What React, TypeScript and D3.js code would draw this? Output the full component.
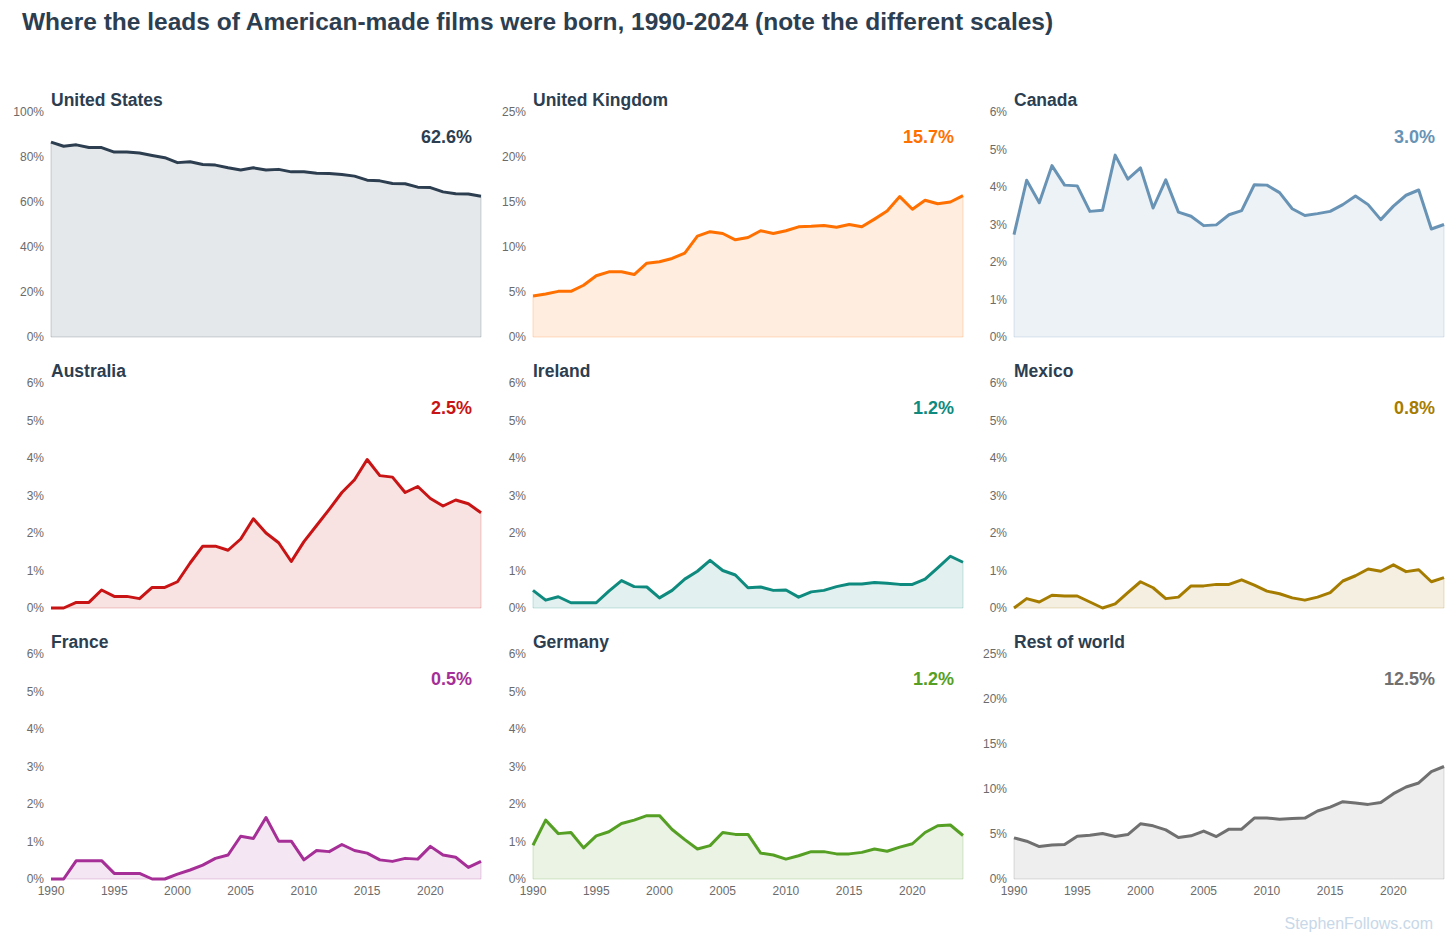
import * as d3 from "d3";

// Share of leads of American-made films, by birth country, 1990-2024.
const years = d3.range(1990, 2025);

const unitedStates = [86.6, 84.8, 85.4, 84.2, 84.2, 82.2, 82.2, 81.8, 80.7, 79.7, 77.5, 77.9, 76.7, 76.4, 75.2, 74.2, 75.2, 74.2, 74.5, 73.4, 73.4, 72.8, 72.7, 72.2, 71.5, 69.7, 69.4, 68.2, 68.1, 66.6, 66.4, 64.5, 63.7, 63.6, 62.6];
const unitedKingdom = [4.55, 4.78, 5.07, 5.07, 5.75, 6.8, 7.24, 7.24, 6.94, 8.2, 8.36, 8.73, 9.33, 11.2, 11.7, 11.5, 10.8, 11.05, 11.8, 11.5, 11.8, 12.24, 12.3, 12.4, 12.2, 12.5, 12.24, 13.1, 14.0, 15.6, 14.2, 15.2, 14.8, 15.0, 15.7];
const canada = [2.73, 4.18, 3.58, 4.57, 4.05, 4.03, 3.35, 3.38, 4.85, 4.21, 4.51, 3.44, 4.19, 3.33, 3.22, 2.97, 2.99, 3.26, 3.37, 4.06, 4.05, 3.85, 3.42, 3.24, 3.29, 3.35, 3.53, 3.76, 3.53, 3.13, 3.49, 3.78, 3.92, 2.88, 3.0];
const australia = [0, 0, 0.15, 0.15, 0.48, 0.31, 0.31, 0.25, 0.55, 0.55, 0.7, 1.2, 1.65, 1.65, 1.54, 1.84, 2.38, 2.0, 1.74, 1.24, 1.77, 2.2, 2.63, 3.08, 3.42, 3.96, 3.53, 3.49, 3.08, 3.24, 2.92, 2.72, 2.88, 2.78, 2.54];
const ireland = [0.47, 0.21, 0.3, 0.14, 0.14, 0.14, 0.45, 0.73, 0.57, 0.56, 0.27, 0.47, 0.77, 0.98, 1.27, 1.0, 0.88, 0.54, 0.56, 0.47, 0.48, 0.29, 0.43, 0.47, 0.57, 0.64, 0.64, 0.68, 0.66, 0.63, 0.63, 0.77, 1.07, 1.38, 1.22];
const mexico = [0, 0.25, 0.16, 0.34, 0.32, 0.32, 0.16, 0, 0.11, 0.41, 0.7, 0.54, 0.25, 0.29, 0.59, 0.59, 0.63, 0.63, 0.75, 0.61, 0.45, 0.38, 0.27, 0.21, 0.29, 0.41, 0.72, 0.86, 1.04, 0.98, 1.15, 0.97, 1.02, 0.7, 0.81];
const france = [0, 0, 0.49, 0.49, 0.49, 0.15, 0.15, 0.15, 0, 0, 0.13, 0.24, 0.37, 0.55, 0.64, 1.14, 1.08, 1.64, 1.01, 1.01, 0.51, 0.76, 0.73, 0.92, 0.76, 0.69, 0.51, 0.47, 0.55, 0.53, 0.87, 0.64, 0.58, 0.31, 0.47];
const germany = [0.9, 1.57, 1.21, 1.24, 0.83, 1.15, 1.26, 1.48, 1.57, 1.69, 1.69, 1.32, 1.05, 0.8, 0.89, 1.24, 1.19, 1.19, 0.69, 0.64, 0.53, 0.62, 0.73, 0.73, 0.67, 0.67, 0.71, 0.8, 0.74, 0.85, 0.94, 1.24, 1.42, 1.44, 1.16];
const restOfWorld = [4.57, 4.2, 3.6, 3.79, 3.83, 4.76, 4.87, 5.06, 4.72, 4.94, 6.13, 5.91, 5.46, 4.61, 4.8, 5.32, 4.72, 5.54, 5.54, 6.77, 6.77, 6.65, 6.73, 6.77, 7.55, 7.99, 8.59, 8.44, 8.29, 8.51, 9.48, 10.22, 10.67, 11.93, 12.5];

const countryNames = ["United States", "United Kingdom", "Canada", "Australia", "Ireland", "Mexico", "France", "Germany", "Rest of world"];
const countrySeries = [unitedStates, unitedKingdom, canada, australia, ireland, mexico, france, germany, restOfWorld];
const yMaxes = [100, 25, 6, 6, 6, 6, 6, 6, 25];
const yTickSteps = [20, 5, 1, 1, 1, 1, 1, 1, 5];
const colors = ["#2c3e50", "#ff7000", "#6893b5", "#c81414", "#0e8a7e", "#a67c00", "#a52f97", "#55a024", "#707070"];
const xTicks = [1990, 1995, 2000, 2005, 2010, 2015, 2020];

const W = 1456;
const H = 945;
const colLeft = [51, 533, 1014];
const rowTop = [112, 383, 654];
const plotW = 430;
const plotH = 225;
const FONT = "'Liberation Sans', Arial, Helvetica, sans-serif";
const DARK = "#2c3e50";
const GREY = "#6b6b6b";

function Panel({ i }: { i: number }) {
  const col = i % 3;
  const row = Math.floor(i / 3);
  const left = colLeft[col];
  const top = rowTop[row];
  const values = countrySeries[i];
  const color = colors[i];

  const x = d3.scaleLinear().domain([1990, 2024]).range([0, plotW]);
  const y = d3.scaleLinear().domain([0, yMaxes[i]]).range([plotH, 0]);
  const yTicks = d3.range(0, yMaxes[i] + 0.001, yTickSteps[i]);

  const pts = years.map((yr, k) => [yr, values[k]] as [number, number]);
  const area = d3.area<[number, number]>().x((d) => x(d[0])).y0(plotH).y1((d) => y(d[1]));
  const line = d3.line<[number, number]>().x((d) => x(d[0])).y((d) => y(d[1]));
  const last = values[values.length - 1];

  return (
    <g transform={`translate(${left},${top})`}>
      <text x={0} y={-6} fontSize={17.5} fontWeight="bold" fill={DARK}>
        {countryNames[i]}
      </text>
      {yTicks.map((t) => (
        <text key={t} x={-7} y={y(t)} dy="0.35em" textAnchor="end" fontSize={12} fill={GREY}>
          {`${t}%`}
        </text>
      ))}
      <path d={area(pts) ?? ""} fill={color} fillOpacity={0.12} stroke={color} strokeOpacity={0.22} strokeWidth={1} />
      <path d={line(pts) ?? ""} fill="none" stroke={color} strokeWidth={3} strokeLinejoin="round" />
      <text x={plotW - 9} y={31} textAnchor="end" fontSize={18} fontWeight="bold" fill={color}>
        {`${last.toFixed(1)}%`}
      </text>
      {row === 2 &&
        xTicks.map((t) => (
          <text key={t} x={x(t)} y={plotH + 16} textAnchor="middle" fontSize={12} fill={GREY}>
            {t}
          </text>
        ))}
    </g>
  );
}

export default function App() {
  return (
    <div style={{ position: "absolute", left: 0, top: 0 }}>
      <svg width={W} height={H} viewBox={`0 0 ${W} ${H}`} style={{ display: "block", background: "#fff" }} fontFamily={FONT}>
        <text x={22} y={30} fontSize={24.5} fontWeight="bold" fill={DARK}>
          Where the leads of American-made films were born, 1990-2024 (note the different scales)
        </text>
        {countryNames.map((_, i) => (
          <Panel key={i} i={i} />
        ))}
        <text x={1433} y={929} textAnchor="end" fontSize={16} fill="#c8d8e8">
          StephenFollows.com
        </text>
      </svg>
    </div>
  );
}
